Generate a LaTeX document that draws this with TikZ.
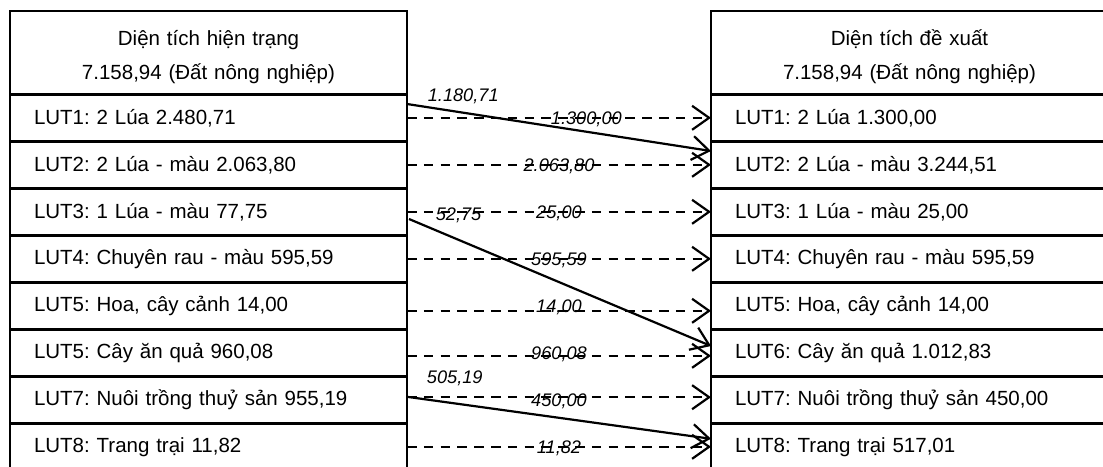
\documentclass[tikz,border=0pt]{standalone}
\usepackage{fontspec}
\setmainfont{Liberation Sans}
\usetikzlibrary{positioning,arrows.meta}
\frenchspacing

\begin{document}
\begin{tikzpicture}[x=0.5pt, y=-0.5pt,
    every node/.style={outer sep=0pt},
    headbox/.style={draw, line width=1.2pt, minimum height=41.65pt,
        text width=174.5pt, inner xsep=12pt, align=center,
        font=\fontsize{10.25}{17}\selectfont},
    lutbox/.style={draw, line width=1.2pt, minimum height=23.5pt,
        text width=174.5pt, inner xsep=12pt, inner ysep=0pt, align=left,
        font=\fontsize{10.25}{12}\selectfont},
    lbl/.style={font=\fontsize{9.1}{11}\selectfont\itshape, anchor=base, inner sep=0pt},
    onrow/.style={lbl, yshift=-3.2pt},
    stayline/.style={line width=1.1pt, dash pattern=on 4.8pt off 3.6pt,
        -{Straight Barb[length=8.5pt, width=12pt]}},
    moveline/.style={line width=1.1pt,
        -{Straight Barb[length=8.5pt, width=12pt]}}]

    \useasboundingbox (0, 0) rectangle (1103, 466);

    %% Land use change

    % Present area
    \node[headbox] (lhead) at (208.5, 52.65) {\rule{0pt}{12pt}Diện tích hiện trạng\\7.158,94 (Đất nông nghiệp)};
    \node[lutbox, below=0pt of lhead] (l1) {LUT1: 2 Lúa 2.480,71};
    \node[lutbox, below=0pt of l1] (l2) {LUT2: 2 Lúa - màu 2.063,80};
    \node[lutbox, below=0pt of l2] (l3) {LUT3: 1 Lúa - màu 77,75};
    \node[lutbox, below=0pt of l3] (l4) {LUT4: Chuyên rau - màu 595,59};
    \node[lutbox, below=0pt of l4] (l5) {LUT5: Hoa, cây cảnh 14,00};
    \node[lutbox, below=0pt of l5] (l6) {LUT5: Cây ăn quả 960,08};
    \node[lutbox, below=0pt of l6] (l7) {LUT7: Nuôi trồng thuỷ sản 955,19};
    \node[lutbox, below=0pt of l7] (l8) {LUT8: Trang trại 11,82};

    % Proposed area
    \node[headbox] (rhead) at (909.5, 52.65) {\rule{0pt}{12pt}Diện tích đề xuất\\7.158,94 (Đất nông nghiệp)};
    \node[lutbox, below=0pt of rhead] (r1) {LUT1: 2 Lúa 1.300,00};
    \node[lutbox, below=0pt of r1] (r2) {LUT2: 2 Lúa - màu 3.244,51};
    \node[lutbox, below=0pt of r2] (r3) {LUT3: 1 Lúa - màu 25,00};
    \node[lutbox, below=0pt of r3] (r4) {LUT4: Chuyên rau - màu 595,59};
    \node[lutbox, below=0pt of r4] (r5) {LUT5: Hoa, cây cảnh 14,00};
    \node[lutbox, below=0pt of r5] (r6) {LUT6: Cây ăn quả 1.012,83};
    \node[lutbox, below=0pt of r6] (r7) {LUT7: Nuôi trồng thuỷ sản 450,00};
    \node[lutbox, below=0pt of r7] (r8) {LUT8: Trang trại 517,01};

    % Kept area
    \draw[stayline] (l1.east) -- (r1.west) node[onrow, pos=.59] {1.300,00};
    \draw[stayline] (l2.east) -- (r2.west) node[onrow, pos=.5] {2.063,80};
    \draw[stayline] (l3.east) -- (r3.west) node[onrow, pos=.5] {25,00};
    \draw[stayline] (l4.east) -- (r4.west) node[onrow, pos=.5] {595,59};
    \draw[stayline] ([yshift=-2.5pt]l5.east) -- ([yshift=-2.5pt]r5.west) node[onrow, pos=.5, yshift=2.5pt] {14,00};
    \draw[stayline] ([yshift=-1.5pt]l6.east) -- ([yshift=-1.5pt]r6.west) node[onrow, pos=.5, yshift=1.5pt] {960,08};
    \draw[stayline] ([yshift=1.3pt]l7.east) -- ([yshift=1.3pt]r7.west) node[onrow, pos=.5, yshift=-1.3pt] {450,00};
    \draw[stayline] (l8.east) -- (r8.west) node[onrow, pos=.5] {11,82};

    % Changed area
    \draw[moveline] ([yshift=6.9pt]l1.east) -- ([yshift=6.9pt]r2.west) node[lbl, pos=.185, yshift=5.6pt] {1.180,71};
    \draw[moveline] ([xshift=1pt, yshift=-3.6pt]l3.east) -- ([yshift=3.4pt]r6.west) node[lbl, pos=.164, yshift=9.7pt] {52,75};
    \draw[moveline] ([yshift=1.5pt]l7.east) -- ([yshift=4pt]r8.west) node[lbl, pos=.157, yshift=10pt] {505,19};

\end{tikzpicture}
\end{document}
